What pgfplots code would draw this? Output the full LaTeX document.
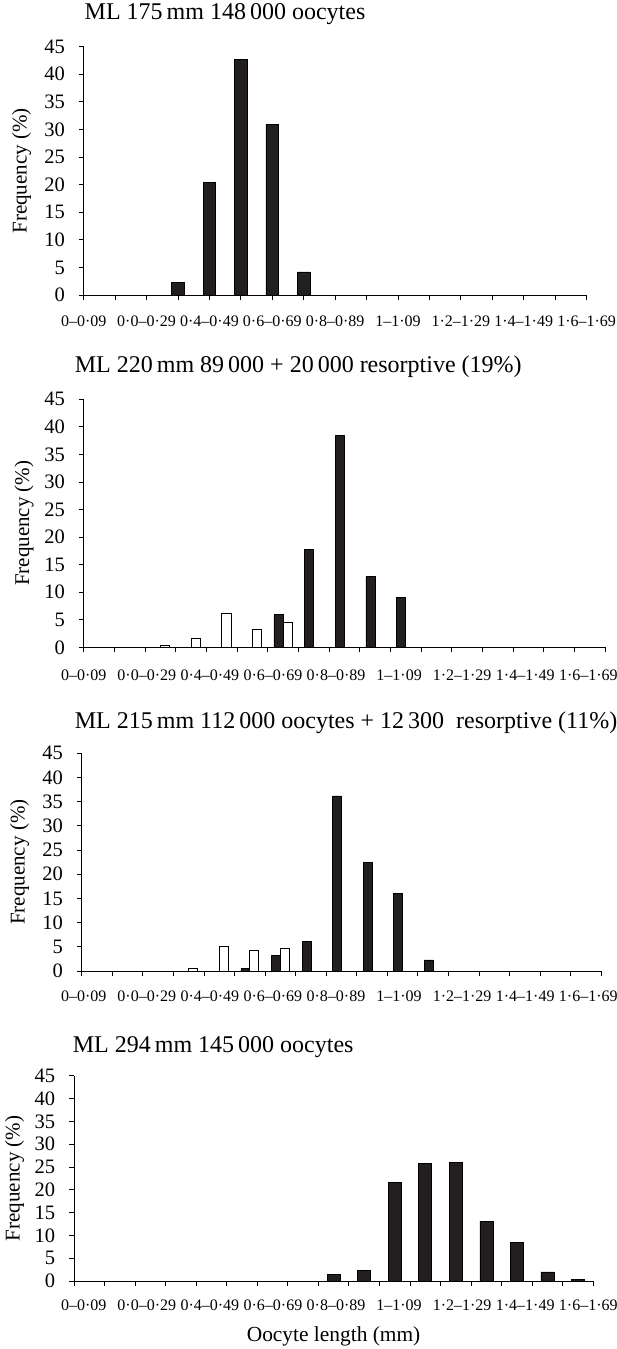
\documentclass[border=0pt]{standalone}
\usepackage{fontspec}
\setmainfont{Liberation Serif}
\usepackage{pgfplots}
\pgfplotsset{compat=1.18}
\definecolor{barblack}{HTML}{231F20}

\newcommand\lbls{0–0·09, 0·0–0·29, 0·4–0·49, 0·6–0·69, 0·8–0·89, 1–1·09, 1·2–1·29, 1·4–1·49, 1·6–1·69}

\pgfplotsset{
  oocyte/.style={
    scale only axis,
    anchor=south west,
    axis x line*=bottom, axis y line*=left,
    axis line style={-, line width=0.8pt, black},
    tick style={line width=0.8pt, black},
    tick align=outside,
    major tick length=5pt,
    ymin=0, ymax=45, ytick={0,5,...,45},
    /pgf/number format/assume math mode=true,
    yticklabel style={font=\fontsize{20.5}{20.5}\selectfont, inner sep=0pt, anchor=east, xshift=-13.5pt},
    xticklabels={},
    extra x tick labels/.expand once=\lbls,
    extra x tick style={major tick length=0pt,
      xticklabel style={font=\fontsize{16}{16}\selectfont, inner sep=0pt, anchor=base}},
    ybar=0pt,
    title style={font=\fontsize{24}{26}\selectfont, anchor=base west, inner sep=0pt},
    ylabel={Frequency (\%)},
    ylabel style={font=\fontsize{21}{21}\selectfont, anchor=center, inner sep=0pt},
  },
  blk/.style={fill=barblack, draw=black, line width=0.6pt},
  wht/.style={fill=white, draw=black, line width=0.6pt},
}

\begin{document}
\begin{tikzpicture}
\useasboundingbox (0pt,0pt) rectangle (617pt,1349pt);

% panel 1
\begin{axis}[oocyte,
  at={(83.7pt,1054pt)}, width=502.9pt, height=248.3pt,
  xmin=0, xmax=16, xtick={0,...,16},
  extra x ticks={0,2,4,6,8,10,12,14,16},
  bar width=12.6pt,
  title={ML 175\,mm 148\,000 oocytes},
  title style={at={([xshift=0.8pt,yshift=20.7pt]axis description cs:0,1)}},
  ylabel style={at={([xshift=-62pt]axis description cs:0,0.5)}},
  xticklabel style={yshift=-32pt},
]
\addplot[blk] coordinates {(3,2.3) (4,20.4) (5,42.7) (6,30.9) (7,4.2)};
\end{axis}

% panel 2
\begin{axis}[oocyte,
  at={(83.7pt,701.7pt)}, width=521.3pt, height=248pt,
  xmin=0, xmax=17, xtick={0,...,17},
  extra x ticks={0,2.057,4.114,6.171,8.228,10.285,12.342,14.4,16.457},
  bar width=9.2pt,
  title={ML 220\,mm 89\,000 + 20\,000 resorptive (19\%)},
  title style={at={([xshift=-9pt,yshift=20.3pt]axis description cs:0,1)}},
  ylabel style={at={([xshift=-59.5pt]axis description cs:0,0.5)}},
  xticklabel style={yshift=-32.8pt},
]
\addplot[blk] coordinates {(6.5,5.9) (7.5,17.8) (8.5,38.5) (9.5,12.8) (10.5,9.1)};
\addplot[wht] coordinates {(2.5,0.4) (3.5,1.6) (4.5,6.2) (5.5,3.3) (6.5,4.5)};
\end{axis}

% panel 3
\begin{axis}[oocyte,
  at={(81.7pt,378pt)}, width=519.5pt, height=217.7pt,
  xmin=0, xmax=17, xtick={0,...,17},
  extra x ticks={0.065,2.129,4.193,6.257,8.321,10.385,12.449,14.514,16.578},
  bar width=8.8pt,
  title={ML 215\,mm 112\,000 oocytes + 12\,300\ \ resorptive (11\%)},
  title style={at={([xshift=-7pt,yshift=18.3pt]axis description cs:0,1)}},
  ylabel style={at={([xshift=-62pt]axis description cs:0,0.5)}},
  xticklabel style={yshift=-31pt},
]
\addplot[blk] coordinates {(5.5,0.5) (6.5,3.3) (7.5,6.1) (8.5,36.2) (9.5,22.5) (10.5,16.0) (11.5,2.3)};
\addplot[wht] coordinates {(3.5,0.6) (4.5,5.1) (5.5,4.2) (6.5,4.6)};
\end{axis}

% panel 4
\begin{axis}[oocyte,
  at={(73.9pt,68pt)}, width=519.4pt, height=205.3pt,
  xmin=0, xmax=17, xtick={0,...,17},
  extra x ticks={0.321,2.385,4.45,6.514,8.579,10.643,12.708,14.772,16.837},
  bar width=13pt,
  title={ML 294\,mm 145\,000 oocytes},
  title style={at={([xshift=-1.2pt,yshift=17.4pt]axis description cs:0,1)}},
  ylabel style={at={([xshift=-59.4pt]axis description cs:0,0.5)}},
  xticklabel style={yshift=-29.8pt},
  xlabel={Oocyte length (mm)},
  xlabel style={font=\fontsize{21.4}{21.4}\selectfont, anchor=center, inner sep=0pt,
    at={([yshift=-55.7pt]axis description cs:0.5,0)}},
]
\addplot[blk] coordinates {(8.5,1.5) (9.5,2.3) (10.5,21.6) (11.5,25.7) (12.5,26.0) (13.5,13.1) (14.5,8.4) (15.5,2.0) (16.5,0.4)};
\end{axis}
\end{tikzpicture}
\end{document}
